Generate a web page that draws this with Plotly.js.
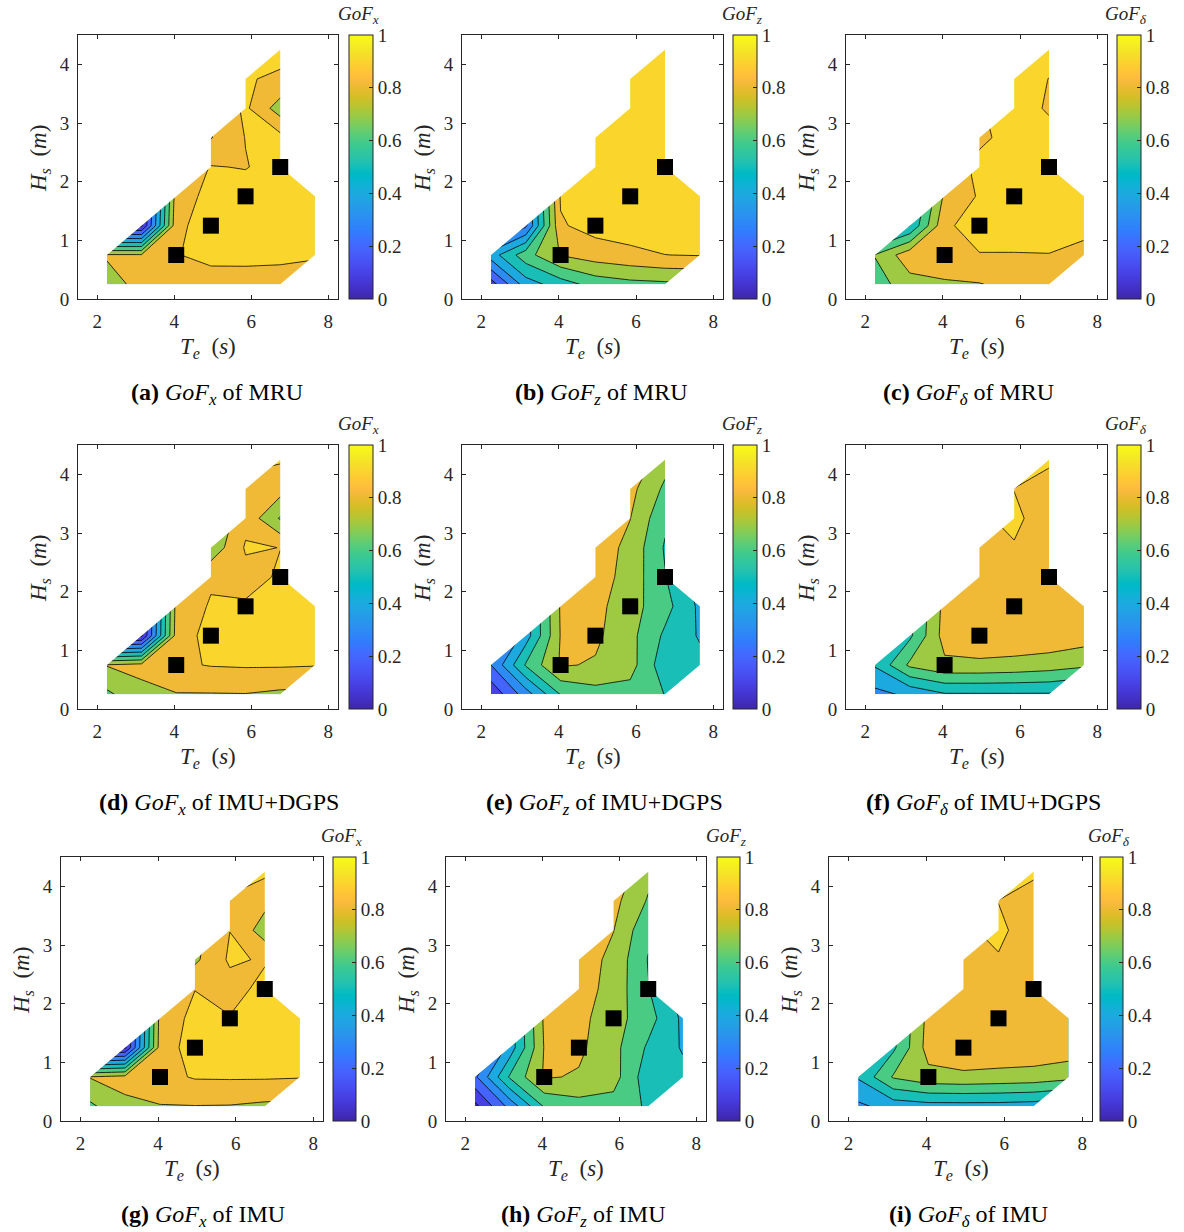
<!DOCTYPE html>
<html><head><meta charset="utf-8">
<script src="https://cdn.plot.ly/plotly-3.0.1.min.js"></script>
<style>html,body{margin:0;padding:0;background:#fff;}#chart{width:1184px;height:1232px;}</style>
</head><body><div id="chart"></div>
<script>
const N = null;
// grid of sea states
const Te = [2.25, 3.15, 4.05, 4.95, 5.85, 6.75, 7.65];
const Hs = [0.25, 0.75, 1.25, 1.75, 2.25, 2.75, 3.25, 3.75, 4.25];
// tested sea states (black squares)
const testTe = [4.05, 4.95, 5.85, 6.75];
const testHs = [0.75, 1.25, 1.75, 2.25];
// outline of the covered sea-state region
const regionTe = [2.25, 6.75, 7.65, 7.65, 6.75, 6.75, 5.85, 5.85, 4.95, 4.95, 2.25];
const regionHs = [0.25, 0.25, 0.75, 1.75, 2.25, 4.25, 3.75, 3.25, 2.75, 2.25, 0.75];
const xTicks = [2, 4, 6, 8];
const yTicks = [0, 1, 2, 3, 4];
const cbTickVals = [0, 0.2, 0.4, 0.6, 0.8, 1];
const cbTickText = ['0', '0.2', '0.4', '0.6', '0.8', '1'];

// GoF values, rows = Hs, columns = Te
const gofX_MRU = [
 [0.76, 0.83, 0.85, 0.85, 0.86, 0.86, N],
 [0.81, 0.81, 0.895, 0.93, 0.925, 0.92, 0.91],
 [N, 0.08, 0.87, 0.96, 0.96, 0.96, 0.95],
 [N, N, 0.85, 0.93, 0.95, 0.95, 0.95],
 [N, N, N, 0.905, 0.895, 0.94, N],
 [N, N, N, 0.795, 0.903, 0.93, N],
 [N, N, N, N, 0.918, 0.75, N],
 [N, N, N, N, 0.905, 0.89, N],
 [N, N, N, N, N, 0.92, N]];
const gofZ_MRU = [
 [0.15, 0.45, 0.55, 0.64, 0.67, 0.68, N],
 [0.45, 0.66, 0.805, 0.85, 0.875, 0.899, 0.905],
 [N, 0.28, 0.89, 0.935, 0.95, 0.96, 0.96],
 [N, N, 0.91, 0.94, 0.95, 0.96, 0.96],
 [N, N, N, 0.94, 0.95, 0.96, N],
 [N, N, N, 0.94, 0.95, 0.95, N],
 [N, N, N, N, 0.95, 0.95, N],
 [N, N, N, N, 0.95, 0.95, N],
 [N, N, N, N, N, 0.95, N]];
const gofD_MRU = [
 [0.65, 0.76, 0.79, 0.795, 0.83, 0.84, N],
 [0.705, 0.864, 0.85, 0.895, 0.895, 0.897, 0.86],
 [N, 0.5, 0.88, 0.95, 0.95, 0.95, 0.94],
 [N, N, 0.82, 0.91, 0.95, 0.95, 0.95],
 [N, N, N, 0.925, 0.95, 0.95, N],
 [N, N, N, 0.883, 0.93, 0.93, N],
 [N, N, N, N, 0.94, 0.89, N],
 [N, N, N, N, 0.93, 0.899, N],
 [N, N, N, N, N, 0.92, N]];
const gofX_DGPS = [
 [0.68, 0.77, 0.795, 0.795, 0.797, 0.78, N],
 [0.805, 0.83, 0.885, 0.905, 0.91, 0.91, 0.905],
 [N, 0.08, 0.84, 0.94, 0.95, 0.95, 0.95],
 [N, N, 0.83, 0.91, 0.91, 0.95, 0.94],
 [N, N, N, 0.885, 0.87, 0.91, N],
 [N, N, N, 0.73, 0.91, 0.899, N],
 [N, N, N, N, 0.87, 0.69, N],
 [N, N, N, N, 0.86, 0.84, N],
 [N, N, N, N, N, 0.91, N]];
const gofZ_DGPS = [
 [0.12, 0.35, 0.605, 0.66, 0.66, 0.598, N],
 [0.3, 0.61, 0.81, 0.79, 0.74, 0.537, 0.53],
 [N, 0.45, 0.805, 0.82, 0.73, 0.582, 0.49],
 [N, N, 0.81, 0.83, 0.74, 0.636, 0.48],
 [N, N, N, 0.85, 0.76, 0.605, N],
 [N, N, N, 0.86, 0.77, 0.59, N],
 [N, N, N, N, 0.802, 0.62, N],
 [N, N, N, N, 0.83, 0.68, N],
 [N, N, N, N, N, 0.74, N]];
const gofD_DGPS = [
 [0.37, 0.42, 0.49, 0.49, 0.49, 0.49, N],
 [0.51, 0.72, 0.78, 0.78, 0.77, 0.75, 0.72],
 [N, 0.58, 0.84, 0.87, 0.87, 0.87, 0.85],
 [N, N, 0.83, 0.87, 0.87, 0.87, 0.86],
 [N, N, N, 0.87, 0.87, 0.86, N],
 [N, N, N, 0.86, 0.893, 0.86, N],
 [N, N, N, N, 0.92, 0.85, N],
 [N, N, N, N, 0.898, 0.85, N],
 [N, N, N, N, N, 0.92, N]];
const gofX_IMU = [
 [0.68, 0.78, 0.795, 0.797, 0.795, 0.78, N],
 [0.805, 0.83, 0.87, 0.908, 0.91, 0.91, 0.905],
 [N, 0.08, 0.84, 0.95, 0.95, 0.95, 0.95],
 [N, N, 0.83, 0.93, 0.905, 0.95, 0.94],
 [N, N, N, 0.898, 0.86, 0.93, N],
 [N, N, N, 0.78, 0.915, 0.89, N],
 [N, N, N, N, 0.899, 0.75, N],
 [N, N, N, N, 0.88, 0.83, N],
 [N, N, N, N, N, 0.92, N]];
const gofZ_IMU = [
 [0.07, 0.33, 0.61, 0.66, 0.66, 0.586, N],
 [0.28, 0.61, 0.81, 0.79, 0.74, 0.54, 0.53],
 [N, 0.44, 0.805, 0.82, 0.73, 0.585, 0.49],
 [N, N, 0.815, 0.83, 0.74, 0.64, 0.48],
 [N, N, N, 0.85, 0.76, 0.605, N],
 [N, N, N, 0.86, 0.77, 0.595, N],
 [N, N, N, N, 0.802, 0.62, N],
 [N, N, N, N, 0.83, 0.69, N],
 [N, N, N, N, N, 0.73, N]];
const gofD_IMU = [
 [0.38, 0.44, 0.46, 0.46, 0.46, 0.45, N],
 [0.51, 0.71, 0.77, 0.78, 0.77, 0.76, 0.73],
 [N, 0.58, 0.84, 0.87, 0.87, 0.87, 0.86],
 [N, N, 0.83, 0.87, 0.87, 0.87, 0.86],
 [N, N, N, 0.87, 0.87, 0.86, N],
 [N, N, N, 0.86, 0.893, 0.86, N],
 [N, N, N, N, 0.92, 0.85, N],
 [N, N, N, N, 0.898, 0.85, N],
 [N, N, N, N, N, 0.92, N]];

const panels = [
 {z: gofX_MRU, sub: 'x', tag: '(a)', sensor: 'MRU'},
 {z: gofZ_MRU, sub: 'z', tag: '(b)', sensor: 'MRU'},
 {z: gofD_MRU, sub: 'δ', tag: '(c)', sensor: 'MRU'},
 {z: gofX_DGPS, sub: 'x', tag: '(d)', sensor: 'IMU+DGPS'},
 {z: gofZ_DGPS, sub: 'z', tag: '(e)', sensor: 'IMU+DGPS'},
 {z: gofD_DGPS, sub: 'δ', tag: '(f)', sensor: 'IMU+DGPS'},
 {z: gofX_IMU, sub: 'x', tag: '(g)', sensor: 'IMU'},
 {z: gofZ_IMU, sub: 'z', tag: '(h)', sensor: 'IMU'},
 {z: gofD_IMU, sub: 'δ', tag: '(i)', sensor: 'IMU'}];

// ---------- styling ----------
const W = 1184, H = 1232;
const FONT = '"Liberation Serif", "DejaVu Serif", serif';
const INK = '#262626';
// [left, right, top, bottom, colorbarLeft, colorbarWidth, captionCenterX] in px
const boxes = [
 [78, 338, 35, 299, 349, 24, 217], [462, 723, 35, 299, 733, 24, 601], [846, 1107, 35, 299, 1117, 24, 968],
 [78, 338, 445, 709, 349, 24, 219], [462, 723, 445, 709, 733, 24, 604], [846, 1107, 445, 709, 1117, 24, 984],
 [61, 323, 857, 1121, 333, 23, 203], [446, 706, 857, 1121, 717, 23, 583], [829, 1092, 857, 1121, 1100, 23, 968]];

const parula = [[0.2422,0.1504,0.6603],[0.2504,0.1650,0.7076],[0.2578,0.1818,0.7511],[0.2647,0.1978,0.7952],[0.2706,0.2147,0.8364],[0.2751,0.2342,0.8710],[0.2783,0.2559,0.8991],[0.2803,0.2782,0.9221],[0.2813,0.3006,0.9414],[0.2810,0.3228,0.9579],[0.2795,0.3447,0.9717],[0.2760,0.3667,0.9829],[0.2699,0.3892,0.9906],[0.2602,0.4123,0.9952],[0.2440,0.4358,0.9988],[0.2206,0.4603,0.9973],[0.1963,0.4847,0.9892],[0.1834,0.5074,0.9798],[0.1786,0.5289,0.9682],[0.1764,0.5499,0.9520],[0.1687,0.5703,0.9359],[0.1540,0.5902,0.9218],[0.1460,0.6091,0.9079],[0.1380,0.6276,0.8973],[0.1248,0.6459,0.8883],[0.1113,0.6635,0.8763],[0.0952,0.6798,0.8598],[0.0689,0.6948,0.8394],[0.0297,0.7082,0.8163],[0.0036,0.7203,0.7917],[0.0067,0.7312,0.7660],[0.0433,0.7411,0.7394],[0.0964,0.7500,0.7120],[0.1408,0.7584,0.6842],[0.1717,0.7670,0.6554],[0.1938,0.7758,0.6251],[0.2161,0.7843,0.5923],[0.2470,0.7918,0.5567],[0.2906,0.7973,0.5188],[0.3406,0.8008,0.4789],[0.3909,0.8029,0.4354],[0.4456,0.8024,0.3909],[0.5044,0.7993,0.3480],[0.5616,0.7942,0.3045],[0.6174,0.7876,0.2612],[0.6720,0.7793,0.2227],[0.7242,0.7698,0.1910],[0.7738,0.7598,0.1646],[0.8203,0.7498,0.1535],[0.8634,0.7406,0.1596],[0.9035,0.7330,0.1774],[0.9393,0.7288,0.2100],[0.9728,0.7298,0.2394],[0.9956,0.7434,0.2371],[0.9970,0.7659,0.2199],[0.9952,0.7893,0.2028],[0.9892,0.8136,0.1885],[0.9786,0.8386,0.1766],[0.9676,0.8639,0.1643],[0.9610,0.8890,0.1537],[0.9597,0.9135,0.1423],[0.9628,0.9373,0.1265],[0.9691,0.9606,0.1064],[0.9769,0.9839,0.0805]];
const rgb = c => 'rgb(' + c.map(v => Math.round(v * 255)).join(',') + ')';
const smoothScale = parula.map((c, i) => [i / (parula.length - 1), rgb(c)]);
// band k (level k/10 .. (k+1)/10) takes the colormap colour of its lower level
const bandScale = [];
for (let k = 0; k < 10; k++) {
  const c = rgb(parula[Math.floor(k / 10 * parula.length)]);
  bandScale.push([Math.max(0, (2 * k - 1) / 18), c], [Math.min(1, (2 * k + 1) / 18), c]);
}

// fill the missing corner of boundary cells so the valid triangle is linear (as in the original)
function prepGrid(z) {
  const g = z.map(r => r.slice());
  for (let i = 0; i < z.length - 1; i++) for (let j = 0; j < z[0].length - 1; j++) {
    const c = [[i, j], [i, j + 1], [i + 1, j + 1], [i + 1, j]];
    const miss = c.filter(([a, b]) => z[a][b] === null);
    if (miss.length === 1) {
      const [mi, mj] = miss[0];
      const di = mi === i ? i + 1 : i, dj = mj === j ? j + 1 : j;
      g[mi][mj] = z[mi][dj] + z[di][mj] - z[di][dj];
    }
  }
  return g;
}

// white mask outside the covered region (outer box, then region traversed the other way)
const bx0 = Math.min(...Te) - 0.05, bx1 = Math.max(...Te) + 0.05;
const by0 = Math.min(...Hs) - 0.05, by1 = Math.max(...Hs) + 0.05;
const revTe = [regionTe[0]].concat(regionTe.slice(1).reverse(), [regionTe[0]]);
const revHs = [regionHs[0]].concat(regionHs.slice(1).reverse(), [regionHs[0]]);
const maskX = [bx0, bx1, bx1, bx0, bx0].concat(revTe, [bx0]);
const maskY = [by0, by0, by1, by1, by0].concat(revHs, [by0]);

const traces = [];
const layout = {
  width: W, height: H, margin: {l: 0, r: 0, t: 0, b: 0},
  paper_bgcolor: '#fff', plot_bgcolor: '#fff', showlegend: false,
  font: {family: FONT, color: INK, size: 19},
  annotations: []
};
const px = x => x / W, py = y => 1 - y / H;

panels.forEach((p, i) => {
  const [L, R, T, B, cbL, cbW, capX] = boxes[i];
  const s = i === 0 ? '' : String(i + 1);
  const xa = 'x' + s, ya = 'y' + s;
  const axCommon = {
    ticks: 'inside', ticklen: 4, tickwidth: 1, tickcolor: INK,
    showline: true, linecolor: INK, linewidth: 1, mirror: 'ticks',
    showgrid: false, zeroline: false, fixedrange: true,
    tickfont: {family: FONT, size: 19, color: INK}
  };
  layout['xaxis' + s] = Object.assign({}, axCommon, {
    domain: [px(L), px(R)], anchor: ya, range: [1.5, 8.25],
    tickvals: xTicks, ticklabelstandoff: 5
  });
  layout['yaxis' + s] = Object.assign({}, axCommon, {
    domain: [py(B), py(T)], anchor: xa, range: [0, 4.5],
    tickvals: yTicks, ticklabelstandoff: 4
  });

  // colorbar carrier (off-range, invisible)
  traces.push({
    type: 'heatmap', xaxis: xa, yaxis: ya, x: [20, 21], y: [20, 21], z: [[0, 1], [1, 0]],
    zmin: 0, zmax: 1, colorscale: smoothScale, hoverinfo: 'skip',
    colorbar: {
      x: px(cbL), xanchor: 'left', xref: 'paper', y: py(T), yanchor: 'top', yref: 'paper',
      len: B - T, lenmode: 'pixels', thickness: cbW, thicknessmode: 'pixels',
      xpad: 0, ypad: 0, outlinewidth: 1, outlinecolor: INK,
      tickvals: cbTickVals, ticktext: cbTickText, ticks: 'inside', ticklen: 4, tickcolor: INK,
      tickfont: {family: FONT, size: 19, color: INK}, ticklabelstandoff: 4
    }
  });
  traces.push({
    type: 'contour', xaxis: xa, yaxis: ya, x: Te, y: Hs, z: prepGrid(p.z),
    zmin: 0, zmax: 1, autocontour: false,
    contours: {start: 0.1, end: 0.9, size: 0.1, coloring: 'fill', showlines: true},
    line: {color: '#000', width: 0.8, smoothing: 0},
    colorscale: bandScale, showscale: false, hoverinfo: 'skip'
  });
  traces.push({
    type: 'scatter', xaxis: xa, yaxis: ya, x: maskX, y: maskY, mode: 'lines',
    fill: 'toself', fillcolor: '#ffffff', line: {width: 0, color: 'rgba(0,0,0,0)', simplify: false},
    hoverinfo: 'skip'
  });
  traces.push({
    type: 'scatter', xaxis: xa, yaxis: ya, x: testTe, y: testHs, mode: 'markers',
    marker: {symbol: 'square', size: 16, color: '#000', line: {width: 0}}, hoverinfo: 'skip'
  });

  const cy = (T + B) / 2;
  layout.annotations.push(
    {text: '<i>T</i><sub><i>e</i></sub>&nbsp;&nbsp;(<i>s</i>)', x: px((L + R) / 2), y: py(B + 49),
     xref: 'paper', yref: 'paper', showarrow: false, xanchor: 'center', yanchor: 'middle',
     font: {family: FONT, size: 23, color: INK}},
    {text: '<i>H</i><sub><i>s</i></sub>&nbsp;&nbsp;(<i>m</i>)', x: px(L - 38), y: py(cy - 8), textangle: -90,
     xref: 'paper', yref: 'paper', showarrow: false, xanchor: 'center', yanchor: 'middle',
     font: {family: FONT, size: 23, color: INK}},
    {text: '<i>GoF</i><sub><i>' + p.sub + '</i></sub>', x: px(cbL + cbW / 2 - 3), y: py(T - 6),
     xref: 'paper', yref: 'paper', showarrow: false, xanchor: 'center', yanchor: 'bottom',
     font: {family: FONT, size: 19, color: INK}},
    {text: '<b>' + p.tag + '</b> <i>GoF</i><sub><i>' + p.sub + '</i></sub> of ' + p.sensor,
     x: px(capX), y: py(B + 95), xref: 'paper', yref: 'paper', showarrow: false,
     xanchor: 'center', yanchor: 'middle', font: {family: FONT, size: 24, color: '#000'}}
  );
});

Plotly.newPlot('chart', traces, layout, {displayModeBar: false, staticPlot: true});
</script>
</body></html>
